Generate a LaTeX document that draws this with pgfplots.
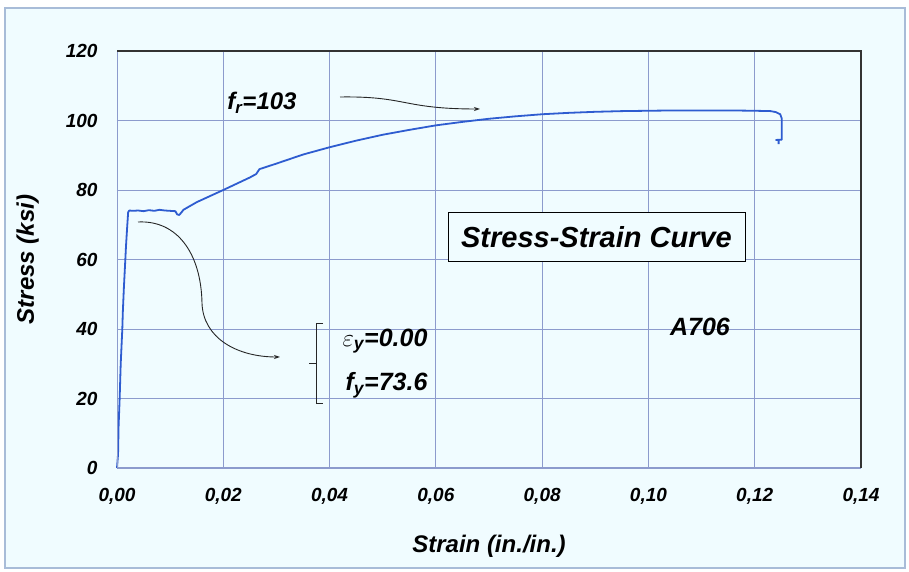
\documentclass[border=0pt]{standalone}
\usepackage{pgfplots}
\pgfplotsset{compat=1.18}
\usepackage{fontspec}
\setmainfont{Liberation Sans}
\usetikzlibrary{arrows.meta}
\definecolor{bgcol}{RGB}{240,252,255}
\definecolor{framecol}{RGB}{168,188,216}
\definecolor{gridcol}{RGB}{140,155,205}
\definecolor{curvecol}{RGB}{46,92,208}
\begin{document}
\begin{tikzpicture}[x=1pt,y=1pt]
\fill[white] (-117,-104) rectangle (792,468);
\filldraw[fill=bgcol,draw=framecol,line width=2pt] (-112,-100) rectangle (788,460);
\begin{axis}[
  at={(0,0)}, anchor=south west,
  scale only axis, width=744pt, height=417pt,
  xmin=0, xmax=0.14, ymin=0, ymax=120,
  xtick={0,0.02,...,0.14}, ytick={0,20,...,120},
  grid=major, major grid style={gridcol, line width=0.8pt},
  major tick length=0pt,
  axis line style={draw=none},
  /pgf/number format/assume math mode=true,
  xticklabel style={font=\fontsize{19}{22}\selectfont\bfseries\itshape, yshift=-17pt,
    /pgf/number format/.cd, fixed, fixed zerofill, precision=2, use comma},
  yticklabel style={font=\fontsize{19}{22}\selectfont\bfseries\itshape, xshift=-16pt,
    /pgf/number format/.cd, fixed, precision=0},
  scaled x ticks=false,
  xlabel={Strain (in./in.)}, ylabel={Stress (ksi)},
  xlabel style={font=\fontsize{24}{28}\selectfont\bfseries\itshape, at={(axis description cs:0.5,0)}, yshift=-64pt},
  ylabel style={font=\fontsize{24}{28}\selectfont\bfseries\itshape, yshift=20pt},
  clip=false,
]
\addplot[curvecol, line width=1.8pt, line join=round] coordinates {
(0,0) (0.0002,4) (0.0003,12) (0.0005,20) (0.0007,30) (0.0010,40) (0.0011,45) (0.0013,52) (0.0015,58)
(0.0017,64) (0.0019,69) (0.0021,73.6) (0.0023,74.1) (0.003,74.0) (0.004,74.1) (0.005,73.9) (0.006,74.2)
(0.007,74.0) (0.008,74.3) (0.009,74.1) (0.010,74.0) (0.011,73.9) (0.0113,73.0) (0.0117,72.8) (0.0121,73.5)
(0.0125,74.3) (0.015,76.5) (0.02,80.0) (0.025,83.6) (0.0262,84.6) (0.0268,86.0) (0.03,87.6) (0.035,90.2)
(0.04,92.3) (0.045,94.2) (0.05,95.9) (0.055,97.3) (0.06,98.6) (0.065,99.6) (0.07,100.5) (0.075,101.2)
(0.08,101.8) (0.085,102.2) (0.09,102.5) (0.095,102.7) (0.10,102.8) (0.105,102.9) (0.11,102.9) (0.115,102.9)
(0.12,102.8) (0.123,102.7) (0.124,102.4) (0.1248,101.8) (0.1251,100.5) (0.1251,98) (0.1251,94.5)
(0.1240,94.4) (0.1245,94.4) (0.1245,93.2)
};
\end{axis}
% plot frame
\draw[gridcol, line width=1pt] (0,417) -- (0,0) -- (744,0);
\draw[black!80, line width=1.5pt] (0,417) -- (744,417) -- (744,0);
% annotations
\draw[black!85, line width=0.9pt, -{Stealth[length=6pt,width=4pt]}] (223,371) .. controls (290,372) and (285,359) .. (363,359);
\draw[black!85, line width=0.9pt, -{Stealth[length=6pt,width=4pt]}] (21,246) .. controls (60,248) and (84,215) .. (85,165) .. controls (86,130) and (120,111) .. (163,111);
\draw[black!85, line width=0.9pt] (206,145) -- (199,145) -- (199,65) -- (206,65);
\draw[black!85, line width=0.9pt] (199,105) -- (192,105);
\node[font=\fontsize{24}{28}\selectfont\bfseries\itshape] at (145,365) {f\textsubscript{r}=103};
\node[font=\fontsize{25}{28}\selectfont\bfseries\itshape, anchor=east] at (314,127) {$\varepsilon$\textsubscript{y}=0.00};
\node[font=\fontsize{25}{28}\selectfont\bfseries\itshape, anchor=east] at (314,83) {f\textsubscript{y}=73.6};
\node[font=\fontsize{25}{28}\selectfont\bfseries\itshape] at (583,141) {A706};
\node[draw=black, line width=1pt, fill=bgcol, minimum width=297pt, minimum height=49pt,
  font=\fontsize{29}{32}\selectfont\bfseries\itshape] at (479.5,230.5) {Stress-Strain Curve};
\end{tikzpicture}
\end{document}
